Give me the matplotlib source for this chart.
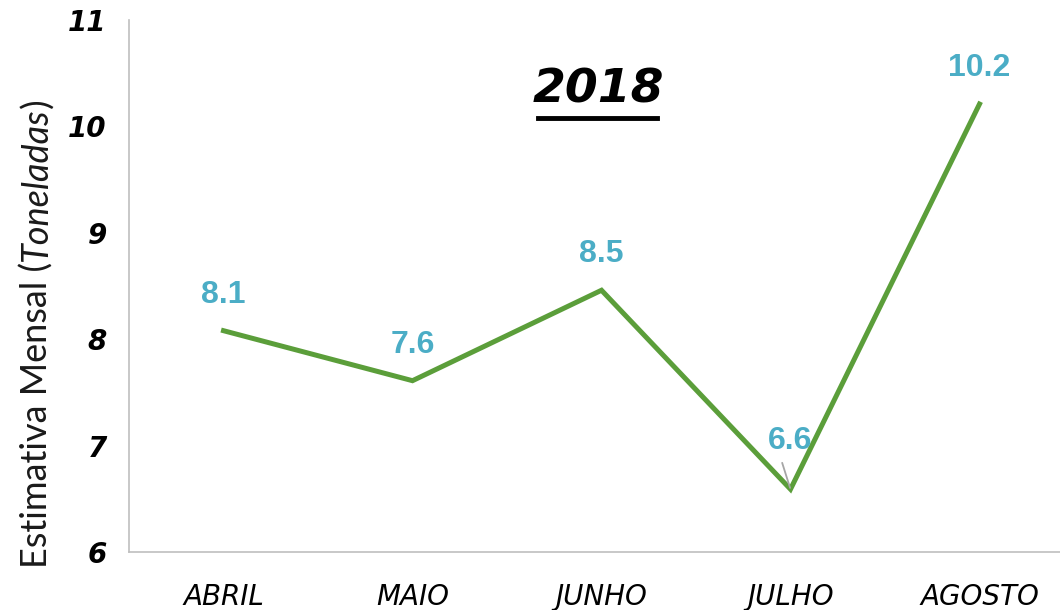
import matplotlib
matplotlib.use("Agg")
import matplotlib.pyplot as plt
from matplotlib.lines import Line2D

meses = ["ABRIL", "MAIO", "JUNHO", "JULHO", "AGOSTO"]
estimativa = [8.08, 7.61, 8.46, 6.59, 10.21]
rotulos = ["8.1", "7.6", "8.5", "6.6", "10.2"]
y_ticks = [6, 7, 8, 9, 10, 11]

verde = "#5B9E3A"
azul = "#4BADC6"
cinza = "#BFBFBF"

fig = plt.figure(figsize=(10.6, 6.1), dpi=100)
ax = fig.add_axes([129 / 1060, 58 / 610, 945 / 1060, 532 / 610])

x = list(range(len(meses)))
ax.plot(x, estimativa, color=verde, linewidth=3.6, solid_joinstyle="miter")

ax.set_xlim(-0.5, len(meses) - 0.5)
ax.set_ylim(6, 11)
ax.set_yticks(y_ticks)
ax.set_yticklabels([str(t) for t in y_ticks], fontsize=20, fontstyle="italic",
                   fontweight="semibold", family="DejaVu Sans")
ax.set_xticks(x)
ax.set_xticklabels(meses, fontsize=20, fontstyle="italic",
                   family="Liberation Sans Narrow")
ax.tick_params(axis="both", length=0)
ax.tick_params(axis="y", pad=16)
ax.tick_params(axis="x", pad=22)

for s in ["top", "right"]:
    ax.spines[s].set_visible(False)
for s in ["left", "bottom"]:
    ax.spines[s].set_color(cinza)
    ax.spines[s].set_linewidth(1.2)
ax.spines["bottom"].set_bounds(-0.5, 4.43)

# rotulos de dados
for i, (v, r) in enumerate(zip(estimativa, rotulos)):
    if r == "6.6":
        ax.annotate(r, xy=(i, v), xytext=(-0.5, 35), textcoords="offset points",
                    ha="center", va="center", color=azul, fontsize=23,
                    fontweight="bold", family="Liberation Sans")
        # linha de chamada
        ax.annotate("", xy=(i, v), xytext=(-6, 19), textcoords="offset points",
                    arrowprops=dict(arrowstyle="-", color="#A6A6A6", lw=1.3,
                                    shrinkA=0, shrinkB=1))
    else:
        ax.annotate(r, xy=(i, v), xytext=(0, 26), textcoords="offset points",
                    ha="center", va="center", color=azul, fontsize=23,
                    fontweight="bold", family="Liberation Sans")

# titulo sublinhado
ax.text(598 / 1060, 1 - 90 / 610, "2018", transform=fig.transFigure, ha="center",
        va="center", fontsize=34, fontweight="bold", fontstyle="italic",
        family="DejaVu Sans")
fig.add_artist(Line2D([538 / 1060, 657 / 1060], [1 - 118 / 610, 1 - 118 / 610],
                      transform=fig.transFigure, color="black", linewidth=3.5))

# rotulo do eixo y com parte em italico
fig.canvas.draw()
renderer = fig.canvas.get_renderer()
partes = [("Estimativa Mensal (", "normal"), ("Toneladas", "italic"), (")", "normal")]
textos = []
for txt, estilo in partes:
    t = fig.text(0, 0, txt, rotation=90, fontsize=26, fontstyle=estilo,
                 family="Lato", ha="center", va="bottom", color="#1a1a1a")
    textos.append(t)
alturas = [t.get_window_extent(renderer).height for t in textos]
total = sum(alturas)
y0 = (610 - 333) - total / 2
for t, h in zip(textos, alturas):
    t.set_position((37 / 1060, y0 / 610))
    y0 += h

fig.savefig("out.png", dpi=100)
